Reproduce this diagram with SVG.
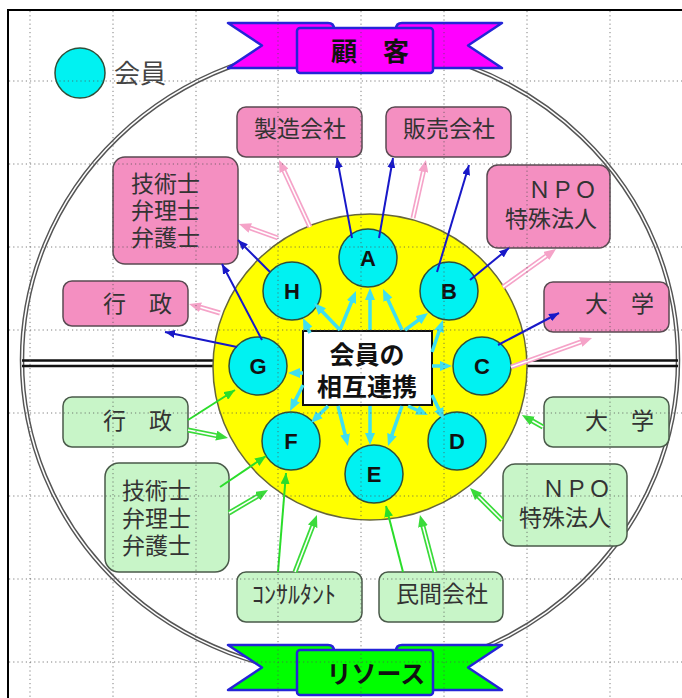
<svg xmlns="http://www.w3.org/2000/svg" width="682" height="698" viewBox="0 0 682 698">
<defs>
<style>
.grid line{stroke:#555;stroke-width:1;stroke-dasharray:1.2 3;opacity:.75}
.mem{fill:#00F2F2;stroke:#2f4f3a;stroke-width:1.5}
.lt{font-family:"Liberation Sans",Arial,sans-serif;font-weight:bold;font-size:22px;text-anchor:middle;fill:#111}
.pink{fill:#F48FC1;stroke:#5a4a52;stroke-width:1.5}
.green{fill:#C8F5C8;stroke:#4a5a4a;stroke-width:1.5}
.bt{font-family:"Noto Sans CJK JP","Noto Sans",sans-serif;font-size:23px;fill:#333}
.blue{stroke:#1818C8;stroke-width:2;fill:none;marker-end:url(#mb)}
.cy{stroke:#3FDFF0;stroke-width:3.5;fill:none;marker-end:url(#mc)}
.gs{stroke:#2ADD2A;stroke-width:2;fill:none;marker-end:url(#mg)}
.pd{stroke:#F5A3C8;stroke-width:5;fill:none;marker-end:url(#mp)}
.gd{stroke:#3ADB3A;stroke-width:5;fill:none;marker-end:url(#mgd)}
.wi{stroke:#fff;stroke-width:1.6;fill:none}
.rib{stroke:#2424D8;stroke-width:2.5;stroke-linejoin:round}
.rt{font-family:"Noto Sans CJK JP","Noto Sans",sans-serif;font-weight:bold;fill:#111;text-anchor:middle}
</style>
<marker id="mb" viewBox="0 0 10 8" refX="10" refY="4" markerWidth="10" markerHeight="8" markerUnits="userSpaceOnUse" orient="auto"><path d="M0,0L10,4L0,8z" fill="#1818C8"/></marker>
<marker id="mc" viewBox="0 0 12 10" refX="6" refY="5" markerWidth="12" markerHeight="10" markerUnits="userSpaceOnUse" orient="auto"><path d="M0,0L12,5L0,10z" fill="#3FDFF0"/></marker>
<marker id="mg" viewBox="0 0 11 9" refX="11" refY="4.5" markerWidth="11" markerHeight="9" markerUnits="userSpaceOnUse" orient="auto"><path d="M0,0L11,4.5L0,9z" fill="#2ADD2A"/></marker>
<marker id="mp" viewBox="0 0 12 10" refX="4" refY="5" markerWidth="12" markerHeight="10" markerUnits="userSpaceOnUse" orient="auto"><path d="M0,0L12,5L0,10z" fill="#F5A3C8"/></marker>
<marker id="mgd" viewBox="0 0 12 10" refX="4" refY="5" markerWidth="12" markerHeight="10" markerUnits="userSpaceOnUse" orient="auto"><path d="M0,0L12,5L0,10z" fill="#3ADB3A"/></marker>
</defs>
<rect width="682" height="698" fill="#fff"/>
<rect x="8" y="10" width="700" height="720" fill="none" stroke="#000" stroke-width="2"/>

<g id="outer-circle">
<ellipse cx="350" cy="360" rx="328" ry="315" fill="none" stroke="#555" stroke-width="4.5"/>
<ellipse cx="350" cy="360" rx="328" ry="315" fill="none" stroke="#fff" stroke-width="1.6"/>
</g>
<g id="band" stroke="#111" stroke-width="2.5">
<line x1="22" y1="360.5" x2="215" y2="360.5"/><line x1="22" y1="366" x2="215" y2="366"/>
<line x1="525" y1="360.5" x2="678" y2="360.5"/><line x1="525" y1="366" x2="678" y2="366"/>
</g>
<g id="legend">
<circle cx="80" cy="73" r="25" class="mem"/>
<text x="114" y="83" class="bt" style="font-size:26px;fill:#444">会員</text>
</g>
<g id="yellow-zone"><ellipse cx="370" cy="367" rx="157" ry="153" fill="#FFFF00" stroke="#66663a" stroke-width="1.5"/></g>

<g id="center"><rect x="303" y="331" width="129" height="74" fill="#fff" stroke="#111" stroke-width="2"/>
<text class="rt" style="font-size:25px"><tspan x="367" y="364">会員の</tspan><tspan x="367" y="396">相互連携</tspan></text></g>

<g id="A"><circle cx="368" cy="258" r="29" class="mem"/><text x="368" y="266" class="lt">A</text></g>
<g id="B"><circle cx="449" cy="291" r="29" class="mem"/><text x="449" y="299" class="lt">B</text></g>
<g id="C"><circle cx="482" cy="366" r="29" class="mem"/><text x="482" y="374" class="lt">C</text></g>
<g id="D"><circle cx="457" cy="441" r="29" class="mem"/><text x="457" y="449" class="lt">D</text></g>
<g id="E"><circle cx="374" cy="474" r="29" class="mem"/><text x="374" y="482" class="lt">E</text></g>
<g id="F"><circle cx="291" cy="441" r="29" class="mem"/><text x="291" y="449" class="lt">F</text></g>
<g id="G"><circle cx="258" cy="366" r="29" class="mem"/><text x="258" y="374" class="lt">G</text></g>
<g id="H"><circle cx="292" cy="291" r="29" class="mem"/><text x="292" y="299" class="lt">H</text></g>

<g id="p-seizo"><rect x="237" y="107" width="125" height="50" rx="9" class="pink"/><text x="300" y="137" class="bt" text-anchor="middle">製造会社</text></g>
<g id="p-hanbai"><rect x="386" y="107" width="125" height="50" rx="9" class="pink"/><text x="449" y="137" class="bt" text-anchor="middle">販売会社</text></g>
<g id="p-npo"><rect x="487" y="165" width="123" height="83" rx="11" class="pink"/><text class="bt" text-anchor="end"><tspan x="597" y="198">ＮＰＯ</tspan><tspan x="597" y="227">特殊法人</tspan></text></g>
<g id="p-daigaku"><rect x="544" y="282" width="125" height="50" rx="9" class="pink"/><text x="654" y="312" class="bt" text-anchor="end">大　学</text></g>
<g id="p-shigyo"><rect x="113" y="157" width="125" height="107" rx="12" class="pink"/><text class="bt"><tspan x="131" y="192">技術士</tspan><tspan x="131" y="219">弁理士</tspan><tspan x="131" y="246">弁護士</tspan></text></g>
<g id="p-gyosei"><rect x="63" y="281" width="125" height="45" rx="9" class="pink"/><text x="103" y="312" class="bt">行　政</text></g>

<g id="g-gyosei"><rect x="63" y="397" width="125" height="50" rx="9" class="green"/><text x="103" y="429" class="bt">行　政</text></g>
<g id="g-shigyo"><rect x="105" y="463" width="124" height="109" rx="14" class="green"/><text class="bt"><tspan x="122" y="499">技術士</tspan><tspan x="122" y="527">弁理士</tspan><tspan x="122" y="554">弁護士</tspan></text></g>
<g id="g-daigaku"><rect x="544" y="397" width="125" height="50" rx="9" class="green"/><text x="654" y="429" class="bt" text-anchor="end">大　学</text></g>
<g id="g-npo"><rect x="503" y="464" width="124" height="82" rx="12" class="green"/><text class="bt" text-anchor="end"><tspan x="611" y="497">ＮＰＯ</tspan><tspan x="611" y="526">特殊法人</tspan></text></g>
<g id="g-consul"><rect x="237" y="572" width="125" height="50" rx="9" class="green"/><text x="252" y="603" class="bt" style="font-size:24px">ｺﾝｻﾙﾀﾝﾄ</text></g>
<g id="g-minkan"><rect x="379" y="572" width="124" height="50" rx="9" class="green"/><text x="442" y="602" class="bt" text-anchor="middle">民間会社</text></g>

<g id="connectors">
<g id="cyan">
<line x1="340" y1="330" x2="353.7" y2="296.5" class="cy"/>
<line x1="370" y1="330" x2="370" y2="294" class="cy"/>
<line x1="402" y1="330" x2="385.5" y2="294.4" class="cy"/>
<line x1="340" y1="330" x2="318.2" y2="307.3" class="cy"/>
<line x1="310" y1="333" x2="305.5" y2="323.4" class="cy"/>
<line x1="405" y1="330" x2="423.2" y2="316.6" class="cy"/>
<line x1="432" y1="352" x2="441" y2="325.7" class="cy"/>
<line x1="432" y1="366" x2="446" y2="366" class="cy"/>
<line x1="303" y1="373" x2="294" y2="373" class="cy"/>
<line x1="303" y1="385" x2="292.7" y2="405.6" class="cy"/>
<line x1="328" y1="406" x2="315.2" y2="418.8" class="cy"/>
<line x1="338" y1="406" x2="346.5" y2="440.2" class="cy"/>
<line x1="370" y1="406" x2="370" y2="439" class="cy"/>
<line x1="402" y1="406" x2="390" y2="440.3" class="cy"/>
<line x1="408" y1="406" x2="422.5" y2="412.5" class="cy"/>
<line x1="432" y1="395" x2="441.4" y2="414.6" class="cy"/>
</g>
<g id="blue">
<line x1="352" y1="238" x2="337" y2="158" class="blue"/>
<line x1="379" y1="238" x2="393" y2="158" class="blue"/>
<line x1="437" y1="272" x2="469" y2="165" class="blue"/>
<line x1="470" y1="280" x2="509" y2="248" class="blue"/>
<line x1="498" y1="345" x2="559" y2="313" class="blue"/>
<line x1="270" y1="272" x2="238" y2="240" class="blue"/>
<line x1="262" y1="340" x2="222" y2="264" class="blue"/>
<line x1="237" y1="347" x2="165" y2="332" class="blue"/>
</g>
<g id="pink-double">
<line x1="310" y1="227" x2="282.4" y2="167.3" class="pd"/><line x1="310" y1="227" x2="284" y2="170.9" class="wi"/>
<line x1="413" y1="218" x2="424.2" y2="167.8" class="pd"/><line x1="413" y1="218" x2="423.4" y2="171.7" class="wi"/>
<line x1="278" y1="238" x2="246.5" y2="226.7" class="pd"/><line x1="278" y1="238" x2="250.3" y2="228.1" class="wi"/>
<line x1="220" y1="313" x2="196.7" y2="306.2" class="pd"/><line x1="220" y1="313" x2="200.5" y2="307.3" class="wi"/>
<line x1="503" y1="287" x2="549.5" y2="253.7" class="pd"/><line x1="503" y1="287" x2="546.2" y2="256" class="wi"/>
<line x1="511" y1="367" x2="584.5" y2="340.7" class="pd"/><line x1="511" y1="367" x2="580.7" y2="342" class="wi"/>
</g>
<g id="green-solid">
<line x1="188" y1="420" x2="235" y2="390" class="gs"/>
<line x1="220" y1="487" x2="266" y2="456" class="gs"/>
<line x1="278" y1="572" x2="286" y2="473" class="gs"/>
<line x1="403" y1="572" x2="386" y2="506" class="gs"/>
</g>
<g id="green-double">
<line x1="188" y1="430" x2="220.2" y2="436.4" class="gd"/><line x1="188" y1="430" x2="216.2" y2="435.6" class="wi"/>
<line x1="229" y1="513" x2="261.1" y2="494.1" class="gd"/><line x1="229" y1="513" x2="257.7" y2="496.1" class="wi"/>
<line x1="295" y1="572" x2="314.1" y2="522.5" class="gd"/><line x1="295" y1="572" x2="312.7" y2="526.2" class="wi"/>
<line x1="435" y1="572" x2="422" y2="522.7" class="gd"/><line x1="435" y1="572" x2="423.1" y2="526.6" class="wi"/>
<line x1="502" y1="520" x2="475.7" y2="493.7" class="gd"/><line x1="502" y1="520" x2="478.5" y2="496.5" class="wi"/>
<line x1="543" y1="427" x2="528.9" y2="419" class="gd"/><line x1="543" y1="427" x2="532.4" y2="421" class="wi"/>
</g>
</g>

<g id="banner-kokyaku">
<path class="rib" fill="#FF00FF" d="M228,23L328,23Q334,23 334,29L334,68L228,68L262,45.5Z"/>
<path class="rib" fill="#FF00FF" d="M502,23L402,23Q396,23 396,29L396,68L502,68L468,45.5Z"/>
<rect class="rib" fill="#FF00FF" x="297" y="28" width="136" height="45" rx="3"/>
<text x="370" y="61" class="rt" style="font-size:26px">顧　客</text>
</g>
<g id="banner-resource">
<path class="rib" fill="#00FF00" d="M228,645L328,645Q334,645 334,651L334,690L228,690L262,667.5Z"/>
<path class="rib" fill="#00FF00" d="M502,645L402,645Q396,645 396,651L396,690L502,690L468,667.5Z"/>
<rect class="rib" fill="#00FF00" x="297" y="650" width="136" height="45" rx="3"/>
<text x="376" y="683" class="rt" style="font-size:25px">リソース</text>
</g>

<g class="grid">
<line x1="30" y1="11" x2="30" y2="698"/><line x1="113" y1="11" x2="113" y2="698"/><line x1="196" y1="11" x2="196" y2="698"/><line x1="278" y1="11" x2="278" y2="698"/><line x1="361" y1="11" x2="361" y2="698"/><line x1="444" y1="11" x2="444" y2="698"/><line x1="527" y1="11" x2="527" y2="698"/><line x1="610" y1="11" x2="610" y2="698"/>
<line x1="9" y1="81" x2="682" y2="81"/><line x1="9" y1="164" x2="682" y2="164"/><line x1="9" y1="247" x2="682" y2="247"/><line x1="9" y1="330" x2="682" y2="330"/><line x1="9" y1="413" x2="682" y2="413"/><line x1="9" y1="496" x2="682" y2="496"/><line x1="9" y1="579" x2="682" y2="579"/><line x1="9" y1="662" x2="682" y2="662"/>
</g>
</svg>
